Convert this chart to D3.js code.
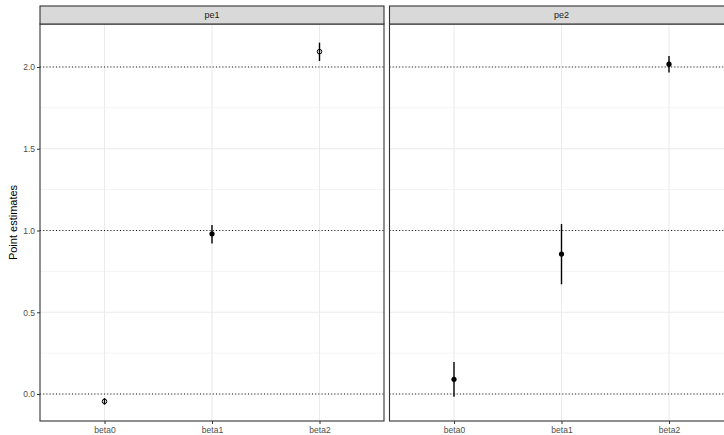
<!DOCTYPE html>
<html>
<head>
<meta charset="utf-8">
<script src="https://cdn.jsdelivr.net/npm/d3@7"></script>
<style>
  body { margin: 0; background: #fff; }
  svg { display: block; font-family: "Liberation Sans", Arial, sans-serif; }
</style>
</head>
<body>
<div id="chart-container"></div>
<script>
// data
const panels = ["pe1", "pe2"];
const params = ["beta0", "beta1", "beta2"];
const estimates = [
  [-0.045, 0.98, 2.094],
  [0.09, 0.856, 2.017]
];
const lower = [
  [-0.065, 0.92, 2.037],
  [-0.016, 0.671, 1.967]
];
const upper = [
  [-0.025, 1.034, 2.149],
  [0.196, 1.04, 2.067]
];
// open circle = shape 1, filled = shape 16
const openShape = [
  [true, false, true],
  [false, false, false]
];
const refLines = [0, 1, 2];
const yTicks = [0, 0.5, 1, 1.5, 2];
const yMinor = [0.25, 0.75, 1.25, 1.75];

const width = 724;
const height = 435;
const panelTop = 24;
const panelBottom = 421;
const stripTop = 6;
const panelX = [40, 389.5];
const panelW = 344;

const svg = d3.select("#chart-container")
  .append("svg")
  .attr("width", width)
  .attr("height", height);

const yScale = d3.scaleLinear()
  .domain([-0.165, 2.263])
  .range([panelBottom, panelTop]);

panels.forEach((p, pi) => {
  const x0 = panelX[pi];
  const xScale = d3.scalePoint()
    .domain(params)
    .range([x0, x0 + panelW])
    .padding(0.6);

  const g = svg.append("g");

  // grid
  g.selectAll(".minor")
    .data(yMinor)
    .enter()
    .append("line")
    .attr("x1", x0).attr("x2", x0 + panelW)
    .attr("y1", d => yScale(d)).attr("y2", d => yScale(d))
    .attr("stroke", "#ebebeb").attr("stroke-width", 0.6);

  g.selectAll(".major")
    .data(yTicks)
    .enter()
    .append("line")
    .attr("x1", x0).attr("x2", x0 + panelW)
    .attr("y1", d => yScale(d)).attr("y2", d => yScale(d))
    .attr("stroke", "#ebebeb").attr("stroke-width", 1.1);

  g.selectAll(".vgrid")
    .data(params)
    .enter()
    .append("line")
    .attr("x1", d => xScale(d)).attr("x2", d => xScale(d))
    .attr("y1", panelTop).attr("y2", panelBottom)
    .attr("stroke", "#ebebeb").attr("stroke-width", 1.1);

  // dotted reference lines
  g.selectAll(".ref")
    .data(refLines)
    .enter()
    .append("line")
    .attr("x1", x0).attr("x2", x0 + panelW)
    .attr("y1", d => yScale(d)).attr("y2", d => yScale(d))
    .attr("stroke", "#000")
    .attr("stroke-width", 0.9)
    .attr("stroke-dasharray", "1,2.2");

  const rows = params.map((b, i) => ({
    b: b,
    est: estimates[pi][i],
    lo: lower[pi][i],
    hi: upper[pi][i],
    open: openShape[pi][i]
  }));

  // ranges
  g.selectAll(".range")
    .data(rows)
    .enter()
    .append("line")
    .attr("x1", d => xScale(d.b)).attr("x2", d => xScale(d.b))
    .attr("y1", d => yScale(d.lo)).attr("y2", d => yScale(d.hi))
    .attr("stroke", "#000")
    .attr("stroke-width", 1.4);

  // points
  g.selectAll(".pt")
    .data(rows)
    .enter()
    .append("circle")
    .attr("cx", d => xScale(d.b))
    .attr("cy", d => yScale(d.est))
    .attr("r", d => d.open ? 2.3 : 2.6)
    .attr("fill", d => d.open ? "none" : "#000")
    .attr("stroke", "#000")
    .attr("stroke-width", d => d.open ? 1 : 0);

  // panel border
  g.append("rect")
    .attr("x", x0).attr("y", panelTop)
    .attr("width", panelW).attr("height", panelBottom - panelTop)
    .attr("fill", "none")
    .attr("stroke", "#333")
    .attr("stroke-width", 1.1);

  // strip
  g.append("rect")
    .attr("x", x0).attr("y", stripTop)
    .attr("width", panelW).attr("height", panelTop - stripTop)
    .attr("fill", "#d9d9d9")
    .attr("stroke", "#333")
    .attr("stroke-width", 1.1);

  g.append("text")
    .attr("x", x0 + panelW / 2)
    .attr("y", (stripTop + panelTop) / 2)
    .attr("dy", "0.35em")
    .attr("text-anchor", "middle")
    .attr("font-size", 9)
    .attr("fill", "#1a1a1a")
    .text(p);

  // x axis
  const xAxis = g.append("g")
    .attr("transform", `translate(0,${panelBottom})`)
    .call(d3.axisBottom(xScale).tickSize(3).tickPadding(3));
  xAxis.select(".domain").remove();
  xAxis.selectAll("line").attr("stroke", "#333").attr("stroke-width", 1);
  xAxis.selectAll("text")
    .attr("font-size", 8.5)
    .attr("fill", "#4d4d4d")
    .attr("font-family", "Liberation Sans, Arial, sans-serif");

  if (pi === 0) {
    const yAxis = g.append("g")
      .attr("transform", `translate(${x0},0)`)
      .call(d3.axisLeft(yScale).tickValues(yTicks).tickFormat(d3.format(".1f")).tickSize(3).tickPadding(2));
    yAxis.select(".domain").remove();
    yAxis.selectAll("line").attr("stroke", "#333").attr("stroke-width", 1);
    yAxis.selectAll("text")
      .attr("font-size", 8.5)
      .attr("fill", "#4d4d4d")
      .attr("font-family", "Liberation Sans, Arial, sans-serif");
  }
});

// y title
svg.append("text")
  .attr("transform", "rotate(-90)")
  .attr("x", -(panelTop + panelBottom) / 2)
  .attr("y", 17)
  .attr("text-anchor", "middle")
  .attr("font-size", 11)
  .attr("fill", "#000")
  .text("Point estimates");
</script>
</body>
</html>
